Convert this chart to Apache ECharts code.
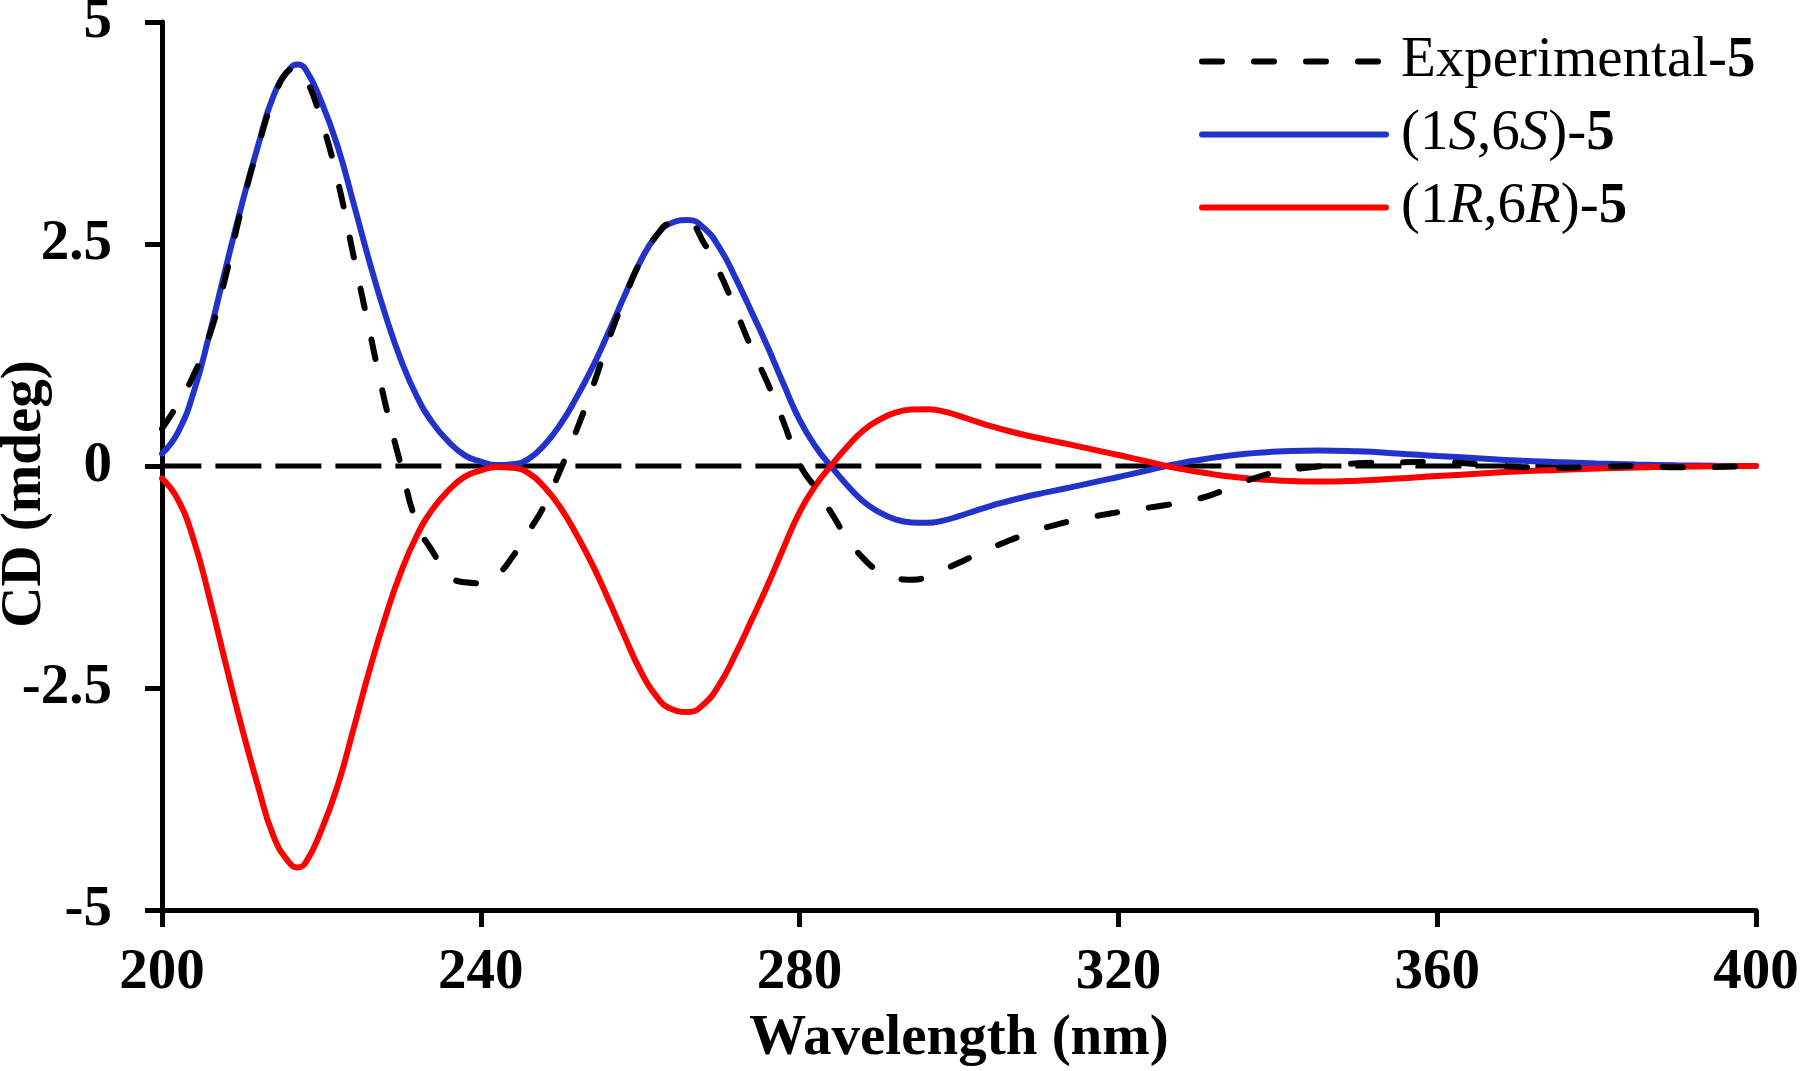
<!DOCTYPE html>
<html>
<head>
<meta charset="utf-8">
<script src="https://cdn.jsdelivr.net/npm/echarts@6/dist/echarts.min.js"></script>
<style>
html,body{margin:0;padding:0;background:#fff;}
#chart{width:1800px;height:1071px;}
</style>
</head>
<body>
<div id="chart"></div>
<script>
// Wavelengths (nm)
const wavelengths = [200,202,204,206,208,210,212,214,216,217,218,220,222,224,226,228,230,232,234,236,238,240,242,244,246,248,250,252,254,256,258,260,262,264,266,268,270,272,274,276,278,280,282,284,286,288,290,292,294,296,298,300,302,304,306,308,310,312,314,316,318,320,322,324,326,328,330,332,334,336,338,340,345,350,355,360,365,370,375,380,385,390,395,400];
// Experimental-5
const experimental = [0.42,0.70,1.03,1.48,2.14,2.91,3.57,4.13,4.46,4.48,4.38,3.89,3.23,2.38,1.54,0.71,0.00,-0.65,-0.97,-1.23,-1.31,-1.32,-1.23,-1.02,-0.74,-0.44,-0.04,0.40,0.88,1.41,1.88,2.30,2.59,2.73,2.73,2.51,2.17,1.75,1.32,0.93,0.49,0.02,-0.25,-0.53,-0.82,-1.04,-1.19,-1.26,-1.28,-1.25,-1.17,-1.09,-1.005,-0.925,-0.850,-0.780,-0.718,-0.665,-0.620,-0.582,-0.550,-0.520,-0.492,-0.466,-0.440,-0.410,-0.370,-0.315,-0.245,-0.170,-0.110,-0.068,-0.005,0.030,0.040,0.045,0.020,-0.010,-0.020,-0.010,0.000,-0.015,-0.010,0.000];
// (1S,6S)-5 calculated
const calcSS = [0.14,0.38,0.84,1.50,2.23,2.94,3.59,4.17,4.47,4.52,4.47,4.10,3.61,2.97,2.31,1.71,1.19,0.78,0.48,0.27,0.12,0.05,0.01,0.02,0.08,0.24,0.47,0.77,1.11,1.50,1.91,2.30,2.59,2.74,2.77,2.68,2.45,2.11,1.73,1.34,0.92,0.52,0.22,-0.01,-0.22,-0.40,-0.52,-0.60,-0.635,-0.640,-0.615,-0.565,-0.505,-0.448,-0.400,-0.355,-0.315,-0.278,-0.240,-0.201,-0.162,-0.124,-0.083,-0.042,0.000,0.035,0.066,0.094,0.118,0.137,0.152,0.163,0.175,0.165,0.142,0.113,0.088,0.063,0.044,0.029,0.017,0.009,0.004,0.001];
// (1R,6R)-5 calculated
const calcRR = [-0.14,-0.38,-0.84,-1.50,-2.23,-2.94,-3.59,-4.17,-4.47,-4.52,-4.47,-4.10,-3.61,-2.97,-2.31,-1.71,-1.19,-0.78,-0.48,-0.27,-0.12,-0.05,-0.01,-0.02,-0.08,-0.24,-0.47,-0.77,-1.11,-1.50,-1.91,-2.30,-2.59,-2.74,-2.77,-2.68,-2.45,-2.11,-1.73,-1.34,-0.92,-0.52,-0.22,0.01,0.22,0.40,0.52,0.60,0.635,0.640,0.615,0.565,0.505,0.448,0.400,0.355,0.315,0.278,0.240,0.201,0.162,0.124,0.083,0.042,0.000,-0.035,-0.066,-0.094,-0.118,-0.137,-0.152,-0.163,-0.175,-0.165,-0.142,-0.113,-0.088,-0.063,-0.044,-0.029,-0.017,-0.009,-0.004,-0.001];
// Zero baseline
const zeroLineX = [200, 400];
const zeroLineY = [0, 0];
// Axis ticks
const xTicks = [200,240,280,320,360,400];
const yTicks = [-5,-2.5,0,2.5,5];

const seriesNames = ['Experimental-5','(1S,6S)-5','(1R,6R)-5'];

function pairs(xs, ys){ return xs.map((x,i)=>[x, ys[i]]); }

const FONT = 'Liberation Serif';
const chart = echarts.init(document.getElementById('chart'));
chart.setOption({
  animation: false,
  backgroundColor: '#ffffff',
  grid: {left: 162, right: 44, top: 22, bottom: 161, containLabel: false, outerBoundsMode: 'none'},
  legend: {
    orient: 'vertical',
    left: 1199,
    top: 33,
    padding: 0,
    itemWidth: 184,
    itemHeight: 14,
    itemGap: 16,
    data: seriesNames,
    itemStyle: {opacity: 0},
    lineStyle: {width: 6},
    formatter: function(name){
      if (name === 'Experimental-5') return '{n|Experimental-}{b|5}';
      if (name === '(1S,6S)-5') return '{n|(1}{i|S}{n|,6}{i|S}{n|)-}{b|5}';
      return '{n|(1}{i|R}{n|,6}{i|R}{n|)-}{b|5}';
    },
    textStyle: {
      fontFamily: FONT, fontSize: 57, color: '#000', padding: [0,0,0,10],
      rich: {
        n: {fontFamily: FONT, fontSize: 57, color: '#000'},
        i: {fontFamily: FONT, fontSize: 57, color: '#000', fontStyle: 'italic'},
        b: {fontFamily: FONT, fontSize: 57, color: '#000', fontWeight: 'bold'}
      }
    }
  },
  xAxis: {
    type: 'value', min: xTicks[0], max: xTicks[xTicks.length-1], interval: 40,
    name: 'Wavelength (nm)', nameLocation: 'middle', nameGap: 101, nameMoveOverlap: false,
    nameTextStyle: {fontFamily: FONT, fontSize: 57, fontWeight: 'bold', color: '#000'},
    axisLine: {onZero: false, lineStyle: {color: '#000', width: 5}},
    axisTick: {inside: false, length: 17, lineStyle: {color: '#000', width: 5}},
    axisLabel: {fontFamily: FONT, fontSize: 57, fontWeight: 'bold', color: '#000', margin: 35},
    splitLine: {show: false}
  },
  yAxis: {
    type: 'value', min: yTicks[0], max: yTicks[yTicks.length-1], interval: 2.5,
    name: 'CD (mdeg)', nameLocation: 'middle', nameGap: 108, nameRotate: 90, nameMoveOverlap: false,
    nameTextStyle: {fontFamily: FONT, fontSize: 57, fontWeight: 'bold', color: '#000', padding: [0,56,0,0]},
    axisLine: {onZero: false, lineStyle: {color: '#000', width: 5}},
    axisTick: {inside: false, length: 17, lineStyle: {color: '#000', width: 5}},
    axisLabel: {fontFamily: FONT, fontSize: 57, fontWeight: 'bold', color: '#000', margin: 50},
    splitLine: {show: false}
  },
  series: [
    {
      name: 'zero', type: 'line', data: pairs(zeroLineX, zeroLineY),
      symbol: 'none', silent: true, z: 1,
      lineStyle: {color: '#000', width: 5, type: [46,14], dashOffset: 6.6, cap: 'butt'}
    },
    {
      name: '(1S,6S)-5', type: 'line', data: pairs(wavelengths, calcSS),
      symbol: 'none', smooth: 0.5, z: 2,
      lineStyle: {color: '#2233cc', width: 6, cap: 'round'},
      itemStyle: {color: '#2233cc'}
    },
    {
      name: '(1R,6R)-5', type: 'line', data: pairs(wavelengths, calcRR),
      symbol: 'none', smooth: 0.5, z: 3,
      lineStyle: {color: '#ff0000', width: 6, cap: 'round'},
      itemStyle: {color: '#ff0000'}
    },
    {
      name: 'Experimental-5', type: 'line', data: pairs(wavelengths, experimental),
      symbol: 'none', smooth: 0.5, z: 4,
      lineStyle: {color: '#000', width: 6, type: [20,32], cap: 'round'},
      itemStyle: {color: '#000'}
    }
  ]
});
</script>
</body>
</html>
